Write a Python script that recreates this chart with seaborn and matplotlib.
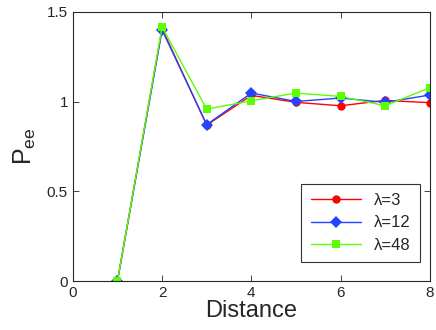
import pandas as pd
import matplotlib
matplotlib.use('Agg')
import matplotlib.pyplot as plt
import seaborn as sns

distance = [1, 2, 3, 4, 5, 6, 7, 8]
lam3 = [0.0, 1.407, 0.869, 1.035, 0.996, 0.977, 1.007, 0.994]
lam12 = [0.0, 1.399, 0.872, 1.048, 1.001, 1.020, 0.996, 1.037]
lam48 = [0.0, 1.416, 0.958, 1.005, 1.048, 1.029, 0.977, 1.078]
series_names = ['λ=3', 'λ=12', 'λ=48']

data = pd.DataFrame({
    'Distance': distance * 3,
    'Pee': lam3 + lam12 + lam48,
    'series': [n for n in series_names for _ in distance],
})

sns.set_style('ticks')
plt.rcParams['font.family'] = ['Liberation Sans', 'DejaVu Sans']
plt.rcParams['mathtext.default'] = 'regular'
plt.rcParams['xtick.direction'] = 'in'
plt.rcParams['ytick.direction'] = 'in'

fig = plt.figure(figsize=(4.36, 3.3), dpi=100)
ax = fig.add_axes([0.167, 0.148, 0.819, 0.816])

palette = {'λ=3': '#ff0000', 'λ=12': '#2244ff', 'λ=48': '#5cff00'}
markers = {'λ=3': 'o', 'λ=12': 'D', 'λ=48': 's'}
sns.lineplot(data=data, x='Distance', y='Pee', hue='series', style='series',
             palette=palette, markers=markers, dashes=False, markersize=6,
             markeredgewidth=0, linewidth=1, ax=ax)

ax.set_xlim(0, 8)
ax.set_ylim(0, 1.5)
ax.set_xticks([0, 2, 4, 6, 8])
ax.set_yticks([0, 0.5, 1, 1.5])
ax.set_yticklabels(['0', '0.5', '1', '1.5'])
ax.tick_params(labelsize=11, top=True, right=True, length=4, width=0.6)
for s in ax.spines.values():
    s.set_linewidth(0.8)
ax.set_xlabel('Distance', fontsize=17, labelpad=0)
ax.set_ylabel('P$_{ee}$', fontsize=18, labelpad=6)

handles, labels = ax.get_legend_handles_labels()
leg = ax.legend(handles, labels, loc='lower right', bbox_to_anchor=(0.995, 0.04),
                fontsize=12, frameon=True, fancybox=False, edgecolor='black',
                handlelength=3.0, borderpad=0.55, labelspacing=0.45)
leg.get_frame().set_linewidth(0.8)

plt.savefig('out.png', dpi=100)
